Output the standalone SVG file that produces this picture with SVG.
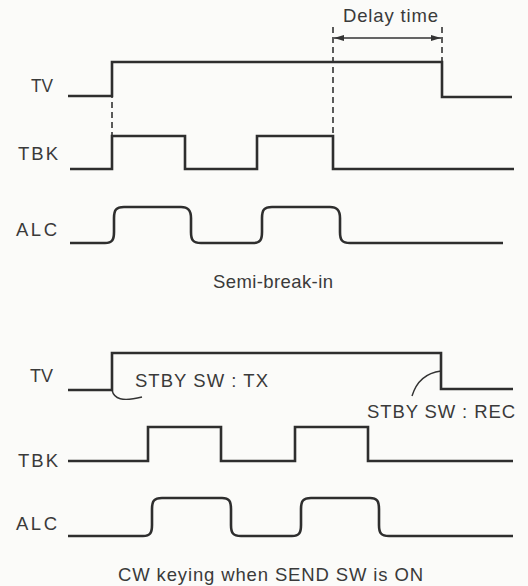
<svg xmlns="http://www.w3.org/2000/svg" width="528" height="586" viewBox="0 0 528 586">
<style>
.bg{fill:#fbfbf9}
.w{fill:none;stroke:#2e2e2e;stroke-width:2.6;stroke-linejoin:miter}
.d{fill:none;stroke:#333;stroke-width:1.6;stroke-dasharray:6 4}
.t{font-family:"Liberation Sans",Arial,sans-serif;font-size:18.5px;fill:#3a3a3a}
.thin{fill:none;stroke:#333;stroke-width:1.4}
</style>
<defs>
<marker id="ah" viewBox="0 0 10 6" refX="10" refY="3" markerWidth="10" markerHeight="6" markerUnits="userSpaceOnUse" orient="auto-start-reverse">
<path d="M0 0 L10 3 L0 6 Z" fill="#333"/>
</marker>
</defs>
<rect class="bg" x="0" y="0" width="528" height="586"/>

<g id="connectors">
<line class="d" x1="112" y1="62" x2="112" y2="136"/>
<line class="d" x1="333" y1="27" x2="333" y2="136"/>
<line class="d" x1="442" y1="27" x2="442" y2="62"/>
<line class="thin" x1="334" y1="38" x2="441" y2="38" marker-start="url(#ah)" marker-end="url(#ah)"/>
<path class="thin" d="M112 390 C114 399 122 402 142 397"/>
<path class="thin" d="M412 396 C416 383 425 373 441 371"/>
</g>

<g id="delay-label"><text class="t" x="343" y="22" textLength="95" lengthAdjust="spacing">Delay time</text></g>

<g id="top-tv">
<text class="t" x="31" y="92" textLength="22" lengthAdjust="spacingAndGlyphs">TV</text>
<path class="w" d="M68 96 H112 V62 H442 V97 H512"/>
</g>
<g id="top-tbk">
<text class="t" x="18" y="160" textLength="40" lengthAdjust="spacing">TBK</text>
<path class="w" d="M70 169 H112 V136 H185 V169 H257 V136 H333 V169 H514"/>
</g>
<g id="top-alc">
<text class="t" x="16" y="236" textLength="41" lengthAdjust="spacing">ALC</text>
<path class="w" d="M70 243 H105 C112 243 114 240 114 232 V218 C114 210 116 207 124 207 H181 C188 207 191 210 191 218 V232 C191 240 193 243 201 243 H253 C260 243 262 240 262 232 V218 C262 210 264 207 272 207 H330 C337 207 340 210 340 218 V232 C340 240 342 243 350 243 H503"/>
</g>
<g id="caption-top"><text class="t" x="213" y="288" textLength="120" lengthAdjust="spacing">Semi-break-in</text></g>

<g id="bottom-tv">
<text class="t" x="30" y="382" textLength="23" lengthAdjust="spacingAndGlyphs">TV</text>
<path class="w" d="M68 390 H112 V353 H441 V389 H513"/>
</g>
<g id="stby-tx"><text class="t" x="135" y="387" textLength="133" lengthAdjust="spacing">STBY SW : TX</text></g>
<g id="stby-rec"><text class="t" x="367" y="418" textLength="148" lengthAdjust="spacing">STBY SW : REC</text></g>
<g id="bottom-tbk">
<text class="t" x="18" y="467" textLength="40" lengthAdjust="spacing">TBK</text>
<path class="w" d="M68 461 H148 V427 H221 V461 H295 V427 H368 V461 H513"/>
</g>
<g id="bottom-alc">
<text class="t" x="16" y="530" textLength="41" lengthAdjust="spacing">ALC</text>
<path class="w" d="M68 536 H143 C150 536 152 533 152 525 V509 C152 501 154 498 162 498 H222 C229 498 231 501 231 509 V525 C231 533 233 536 241 536 H292 C299 536 301 533 301 525 V509 C301 501 303 498 311 498 H370 C377 498 379 501 379 509 V525 C379 533 381 536 389 536 H513"/>
</g>
<g id="caption-bottom"><text class="t" x="118" y="581" textLength="305" lengthAdjust="spacing">CW keying when SEND SW is ON</text></g>
</svg>
